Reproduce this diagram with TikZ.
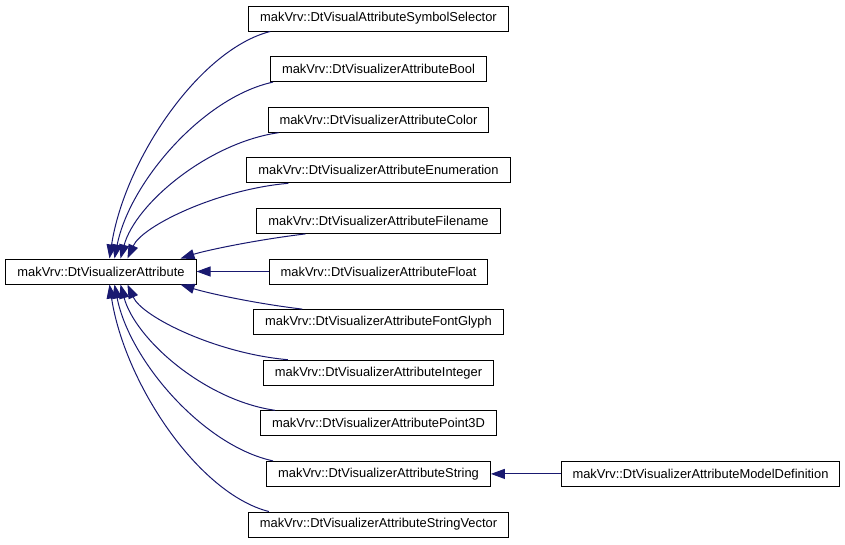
\documentclass[tikz,border=0pt]{standalone}
\usepackage{fontspec}
\setmainfont{Liberation Sans}
\usetikzlibrary{arrows.meta}
\definecolor{edgeblue}{HTML}{191970}
\tikzset{
  box/.style={draw=black, fill=white, line width=1pt, minimum height=25pt,
    inner xsep=11.5pt, inner ysep=0pt, font=\fontsize{12.9}{14}\selectfont},
  inh/.style={draw=edgeblue, line width=1pt,
    -{Triangle[length=14pt,width=10pt,fill=edgeblue]}}
}
\begin{document}
\begin{tikzpicture}[x=1pt,y=-1pt]
\useasboundingbox[fill=white] (0,0) rectangle (845,544);
\node[box] (base) at (101,271.5) {makVrv::DtVisualizerAttribute};
\node[box] (c1)  at (378.5,18.5)  {makVrv::DtVisualAttributeSymbolSelector};
\node[box] (c2)  at (378.5,69.1)  {makVrv::DtVisualizerAttributeBool};
\node[box] (c3)  at (378.5,119.7) {makVrv::DtVisualizerAttributeColor};
\node[box] (c4)  at (378.5,170.3) {makVrv::DtVisualizerAttributeEnumeration};
\node[box] (c5)  at (378.5,220.9) {makVrv::DtVisualizerAttributeFilename};
\node[box] (c6)  at (378.5,271.5) {makVrv::DtVisualizerAttributeFloat};
\node[box] (c7)  at (378.5,322.1) {makVrv::DtVisualizerAttributeFontGlyph};
\node[box] (c8)  at (378.5,372.7) {makVrv::DtVisualizerAttributeInteger};
\node[box] (c9)  at (378.5,423.3) {makVrv::DtVisualizerAttributePoint3D};
\node[box] (c10) at (378.5,473.9) {makVrv::DtVisualizerAttributeString};
\node[box] (c11) at (378.5,524.5) {makVrv::DtVisualizerAttributeStringVector};
\node[box] (md)  at (700.5,473.9) {makVrv::DtVisualizerAttributeModelDefinition};
% upper edges
\draw[inh] ([xshift=22pt]c1.south west) .. controls +(-71,18) and +(15,-98) .. ([xshift=104pt]base.north west);
\draw[inh] ([xshift=3pt]c2.south west) .. controls +(-70,15) and +(15,-76) .. ([xshift=109pt]base.north west);
\draw[inh] ([xshift=11pt]c3.south west) .. controls +(-70,10) and +(15,-55) .. ([xshift=115pt]base.north west);
\draw[inh] ([xshift=42pt]c4.south west) .. controls +(-70,6) and +(15,-33) .. ([xshift=122pt]base.north west);
\draw[inh] ([xshift=49pt]c5.south west) .. controls +(-50,6) and +(25,-8) .. ([xshift=175pt]base.north west);
% straight
\draw[inh] (c6.west) -- (base.east);
% lower edges
\draw[inh] ([xshift=49pt]c7.north west) .. controls +(-50,-6) and +(25,8) .. ([xshift=175pt]base.south west);
\draw[inh] ([xshift=25pt]c8.north west) .. controls +(-70,-6) and +(15,33) .. ([xshift=122pt]base.south west);
\draw[inh] ([xshift=15pt]c9.north west) .. controls +(-70,-10) and +(15,55) .. ([xshift=115pt]base.south west);
\draw[inh] ([xshift=7pt]c10.north west) .. controls +(-70,-15) and +(15,76) .. ([xshift=109pt]base.south west);
\draw[inh] ([xshift=21pt]c11.north west) .. controls +(-71,-18) and +(15,98) .. ([xshift=104pt]base.south west);
% second level
\draw[inh] (md.west) -- (c10.east);
\end{tikzpicture}
\end{document}
